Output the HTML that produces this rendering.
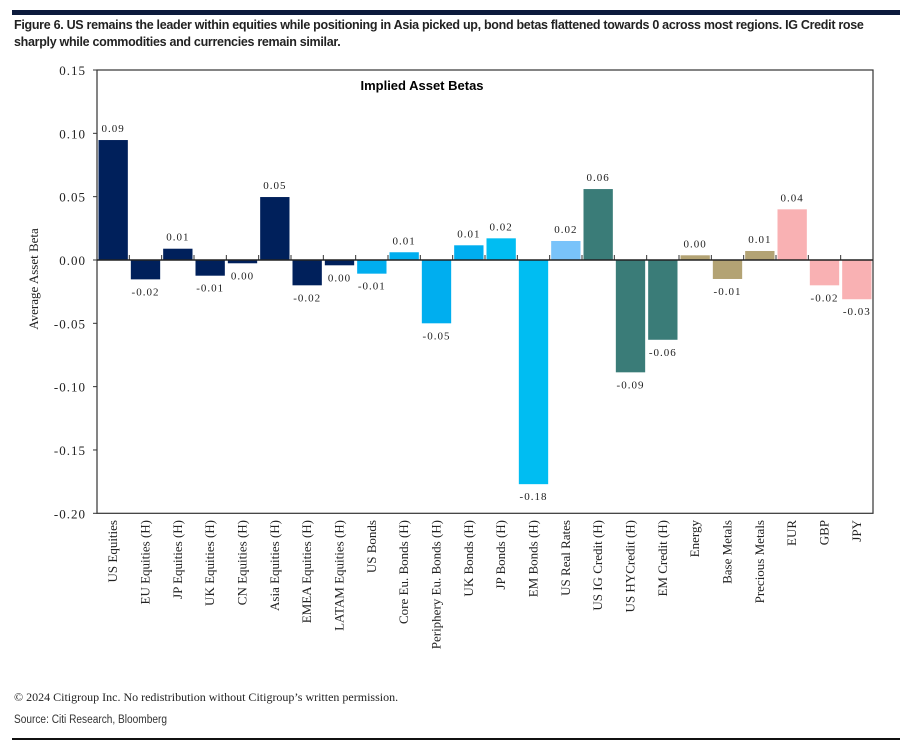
<!DOCTYPE html>
<html><head><meta charset="utf-8"><style>
body{margin:0;background:#fff;width:912px;height:752px;overflow:hidden;font-family:"Liberation Sans",sans-serif}
.hdr{position:absolute;left:12px;top:10px;width:888px;height:5px;background:#0c1a3c}
.title{position:absolute;left:14px;top:17px;width:900px;font-size:12.5px;line-height:17px;color:#222;font-weight:bold;letter-spacing:-0.3px}
.copy{position:absolute;left:14px;top:690px;font-family:"Liberation Serif",serif;font-size:12px;color:#222}
.src{position:absolute;left:14px;top:714px;font-size:11.5px;color:#333;transform:scaleX(0.88);transform-origin:left}
.ftr{position:absolute;left:12px;top:738px;width:888px;height:1.5px;background:#111}
</style></head><body>
<div class="hdr"></div>
<div class="title">Figure 6. US remains the leader within equities while positioning in Asia picked up, bond betas flattened towards 0 across most regions. IG Credit rose<br>sharply while commodities and currencies remain similar.</div>
<svg id="chart" width="912" height="752" style="position:absolute;left:0;top:0"></svg>
<div class="copy">© 2024 Citigroup Inc. No redistribution without Citigroup’s written permission.</div>
<div class="src">Source: Citi Research, Bloomberg</div>
<div class="ftr"></div>
<script>
const categories=["US Equities","EU Equities (H)","JP Equities (H)","UK Equities (H)","CN Equities (H)","Asia Equities (H)","EMEA Equities (H)","LATAM Equities (H)","US Bonds","Core Eu. Bonds (H)","Periphery Eu. Bonds (H)","UK Bonds (H)","JP Bonds (H)","EM Bonds (H)","US Real Rates","US IG Credit (H)","US HYCredit (H)","EM Credit (H)","Energy","Base Metals","Precious Metals","EUR","GBP","JPY"];
const values=[0.0947,-0.0153,0.0089,-0.0124,-0.0026,0.0497,-0.020,-0.0042,-0.0108,0.0061,-0.050,0.0116,0.0171,-0.177,0.015,0.056,-0.0887,-0.063,0.0037,-0.015,0.0071,0.040,-0.020,-0.031];
const valueLabels=["0.09","-0.02","0.01","-0.01","0.00","0.05","-0.02","0.00","-0.01","0.01","-0.05","0.01","0.02","-0.18","0.02","0.06","-0.09","-0.06","0.00","-0.01","0.01","0.04","-0.02","-0.03"];
const groups=["eq","eq","eq","eq","eq","eq","eq","eq","bd","bd","bd","bd","bd2","bd2","rr","cr","cr","cr","cm","cm","cm","fx","fx","fx"];
const yTicks=[0.15,0.10,0.05,0.00,-0.05,-0.10,-0.15,-0.20];
const colors={eq:"#00205b",bd:"#00aeef",bd2:"#00bdf2",rr:"#79c3fa",cr:"#3a7c78",cm:"#b3a374",fx:"#f9b1b3"};
const L=97,R=873,T=70,B=513.3,ymin=-0.20,ymax=0.15;
const y=v=>T+(ymax-v)/(ymax-ymin)*(B-T);
const cw=(R-L)/categories.length;
const x=i=>L+i*cw;
const svg=document.getElementById('chart');
const NS="http://www.w3.org/2000/svg";
function mk(t,a){const e=document.createElementNS(NS,t);for(const k in a)e.setAttribute(k,a[k]);svg.appendChild(e);return e;}
const frame=mk('rect',{x:L,y:T,width:R-L,height:B-T,fill:'none',stroke:'#333','stroke-width':1.2});


const tt=mk('text',{x:422,y:90,'font-size':13,'font-weight':'bold','text-anchor':'middle','font-family':'Liberation Sans Narrow, Liberation Sans, sans-serif'});tt.textContent='Implied Asset Betas';


yTicks.forEach(v=>{
 const t=mk('text',{x:86,y:y(v)+5,'font-size':13,'text-anchor':'end','font-family':'Liberation Serif, serif','fill':'#222','letter-spacing':'1'});t.textContent=v.toFixed(2);
 
 
 const m=mk('line',{x1:L-4,x2:L,y1:y(v),y2:y(v),stroke:'#333'});
 
 
});
const yt=mk('text',{transform:'translate(38,'+y(-0.015)+') rotate(-90)','font-size':13,'text-anchor':'middle','font-family':'Liberation Serif, serif','fill':'#222'});yt.textContent='Average Asset Beta';


values.forEach((v,i)=>{
 const y0=y(0),yv=y(v);
 const b=mk('rect',{x:x(i)+1.5,y:Math.min(y0,yv),width:cw-3,height:Math.abs(yv-y0),fill:colors[groups[i]]});
 
 
 const cx=x(i)+cw/2;
 const lt=mk('text',{x:cx,y:v>=0?yv-8:yv+16,'font-size':11,'text-anchor':'middle','font-family':'Liberation Serif, serif','fill':'#222','letter-spacing':'1'});lt.textContent=valueLabels[i];
 
 
 const cl=mk('text',{transform:'translate('+(cx+4)+',520) rotate(-90)','font-size':13,'text-anchor':'end','font-family':'Liberation Serif, serif','fill':'#222'});cl.textContent=categories[i];
 
 
 const tk=mk('line',{x1:x(i),x2:x(i),y1:y(0),y2:y(0)-5,stroke:'#333'});
 
 
});
const z=mk('line',{x1:L,x2:R,y1:y(0),y2:y(0),stroke:'#222','stroke-width':1.5});


</script>
</body></html>
